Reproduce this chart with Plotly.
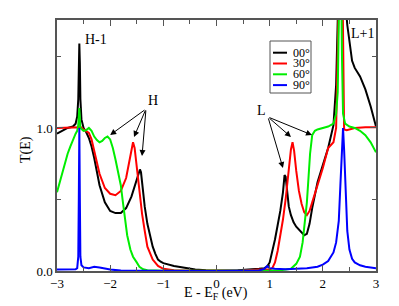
import plotly.graph_objects as go

# ---------------- data ----------------
x_00 = [-3.0, -2.9, -2.8, -2.7, -2.65, -2.62, -2.6, -2.59, -2.58, -2.57, -2.56, -2.54, -2.5, -2.45,
        -2.4, -2.35, -2.3, -2.2, -2.1, -2.0, -1.9, -1.8, -1.7, -1.6, -1.55, -1.5, -1.46, -1.44,
        -1.42, -1.4, -1.35, -1.3, -1.25, -1.2, -1.15, -1.1, -1.05, -1.0, -0.8, -0.6, -0.4, -0.2,
        0.0, 0.2, 0.4, 0.6, 0.8, 0.9, 0.95, 1.0, 1.05, 1.1, 1.15, 1.2, 1.25, 1.28, 1.3, 1.33,
        1.36, 1.4, 1.45, 1.5, 1.55, 1.6, 1.65, 1.7, 1.75, 1.8, 1.9, 2.0, 2.1, 2.2, 2.25, 2.28,
        2.31, 2.34, 2.37, 2.4, 2.43, 2.46, 2.5, 2.55, 2.6, 2.7, 2.8, 2.9, 3.0]
y_00 = [0.96, 0.98, 1.0, 1.01, 1.03, 1.08, 1.2, 1.4, 1.59, 1.45, 1.2, 1.06, 1.0, 0.97,
        0.93, 0.87, 0.79, 0.6, 0.48, 0.42, 0.405, 0.405, 0.44, 0.52, 0.58, 0.65, 0.70, 0.71,
        0.69, 0.62, 0.45, 0.33, 0.24, 0.17, 0.12, 0.08, 0.065, 0.055, 0.035, 0.02, 0.01, 0.005,
        0.003, 0.003, 0.005, 0.008, 0.015, 0.02, 0.03, 0.06, 0.13, 0.22, 0.32, 0.42, 0.55, 0.67, 0.66, 0.55,
        0.45, 0.39, 0.34, 0.31, 0.29, 0.27, 0.25, 0.26, 0.33, 0.44, 0.62, 0.74, 0.86, 1.02, 1.3, 1.75,
        2.3, 2.5, 2.3, 2.0, 1.85, 1.72, 1.6, 1.47, 1.42, 1.36, 1.27, 1.15, 1.01]

x_30 = [-3.0, -2.8, -2.7, -2.6, -2.55, -2.5, -2.45, -2.4, -2.35, -2.3, -2.2, -2.1, -2.0, -1.9,
        -1.8, -1.7, -1.65, -1.6, -1.57, -1.54, -1.5, -1.45, -1.4, -1.35, -1.3, -1.2, -1.1, -1.0,
        -0.8, -0.5, 0.0, 0.5, 0.8, 0.9, 1.0, 1.05, 1.1, 1.15, 1.2, 1.25, 1.3, 1.35, 1.4, 1.43,
        1.46, 1.5, 1.55, 1.6, 1.65, 1.7, 1.75, 1.8, 1.9, 2.0, 2.1, 2.2, 2.25, 2.28, 2.3, 2.34,
        2.37, 2.385, 2.4, 2.45, 2.5, 2.6, 2.8, 3.0]
y_30 = [1.0, 1.0, 1.0, 1.0, 1.005, 0.99, 0.98, 0.965, 0.92, 0.84, 0.68, 0.58, 0.54, 0.53,
        0.56, 0.65, 0.74, 0.85, 0.9, 0.86, 0.72, 0.55, 0.4, 0.28, 0.17, 0.08, 0.035, 0.015,
        0.005, 0.002, 0.001, 0.003, 0.01, 0.012, 0.01, 0.02, 0.06, 0.14, 0.24, 0.36, 0.5, 0.67, 0.85, 0.9,
        0.84, 0.7, 0.56, 0.47, 0.41, 0.39, 0.42, 0.48, 0.6, 0.72, 0.86, 0.9, 1.0, 1.6, 2.2, 2.6,
        2.0, 1.2, 0.99, 0.985, 0.99, 1.0, 1.005, 1.005]

x_60 = [-3.0, -2.95, -2.9, -2.85, -2.8, -2.75, -2.7, -2.65, -2.62, -2.6, -2.59, -2.58, -2.57,
        -2.56, -2.5, -2.45, -2.4, -2.35, -2.3, -2.25, -2.2, -2.15, -2.1, -2.05, -2.0, -1.95,
        -1.9, -1.85, -1.8, -1.76, -1.72, -1.68, -1.62, -1.57, -1.5, -1.45, -1.38, -1.3, -1.0,
        0.0, 1.0, 1.2, 1.3, 1.4, 1.5, 1.57, 1.62, 1.66, 1.7, 1.73, 1.76, 1.8, 1.85, 1.9, 2.0,
        2.1, 2.2, 2.25, 2.28, 2.3, 2.33, 2.36, 2.38, 2.42, 2.5, 2.6, 2.7, 2.8, 2.9, 3.0]
y_60 = [0.55, 0.62, 0.7, 0.77, 0.82, 0.87, 0.92, 0.96, 0.98, 1.02, 1.08, 1.14, 1.07,
        1.0, 0.98, 0.985, 1.0, 0.98, 0.94, 0.915, 0.9, 0.91, 0.93, 0.94, 0.92, 0.86,
        0.78, 0.69, 0.6, 0.48, 0.36, 0.25, 0.15, 0.1, 0.06, 0.03, 0.012, 0.005, 0.001,
        0.0, 0.001, 0.005, 0.01, 0.015, 0.05, 0.1, 0.2, 0.33, 0.48, 0.65, 0.82, 0.95, 0.98, 0.99, 1.0,
        1.01, 1.03, 1.1, 1.25, 1.6, 2.5, 1.5, 1.1, 1.03, 1.01, 1.0, 0.98, 0.95, 0.9, 0.83]

x_90 = [-3.0, -2.8, -2.65, -2.62, -2.6, -2.59, -2.58, -2.57, -2.56, -2.54, -2.5, -2.4, -2.3,
        -2.2, -2.0, -1.8, -1.5, 0.0, 0.8, 0.9, 0.95, 1.0, 1.1, 1.3, 1.5, 1.7, 1.9, 2.0, 2.1,
        2.2, 2.25, 2.3, 2.33, 2.36, 2.38, 2.4, 2.43, 2.46, 2.5, 2.55, 2.6, 2.7, 2.8, 3.0]
y_90 = [0.01, 0.01, 0.012, 0.02, 0.1, 0.5, 1.0, 0.5, 0.1, 0.04, 0.025, 0.02, 0.03,
        0.025, 0.01, 0.003, 0.001, 0.0, 0.003, 0.015, 0.035, 0.02, 0.015, 0.012, 0.015, 0.02, 0.03, 0.045, 0.07,
        0.13, 0.2, 0.35, 0.6, 0.9, 1.0, 0.85, 0.5, 0.28, 0.15, 0.085, 0.06, 0.04, 0.03, 0.02]

series_names = ["00°", "30°", "60°", "90°"]
series_colors = ["#000000", "#ff0000", "#00ee00", "#0000ff"]
series_x = [x_00, x_30, x_60, x_90]
series_y = [y_00, y_30, y_60, y_90]

x_ticks = [-3, -2, -1, 0, 1, 2, 3]
y_ticks = [0.0, 1.0]
y_tick_labels = ["0.0", "1.0"]

# ---------------- figure ----------------
FONT = "Liberation Serif"
fig = go.Figure()
for xs, ys, nm, col in zip(series_x, series_y, series_names, series_colors):
    fig.add_trace(go.Scatter(x=xs, y=ys, mode="lines", name=nm,
                             line=dict(color=col, width=2), showlegend=False))

axis_common = dict(showline=True, linecolor="#555555", linewidth=1.5, mirror="ticks",
                   ticks="inside", ticklen=6, tickcolor="#555555", tickwidth=1,
                   showgrid=False, zeroline=False, automargin=False,
                   tickfont=dict(family=FONT, size=13, color="#000"))

fig.update_xaxes(range=[-3, 3], tickvals=x_ticks, **axis_common,
                 minor=dict(ticks="inside", dtick=0.5, ticklen=4, tickcolor="#555555"))
fig.update_yaxes(range=[0, 1.755], tickvals=y_ticks, ticktext=y_tick_labels, **axis_common,
                 minor=dict(ticks="inside", dtick=0.5, ticklen=4, tickcolor="#555555"))

L, R, T, B = 57, 376, 20, 271
def px(v):
    return (v - L) / (R - L)
def py(v):
    return (B - v) / (B - T)

ann = []
# axis titles
ann.append(dict(x=px(216), y=py(293), xref="paper", yref="paper", text="E - E<sub>F</sub> (eV)",
                showarrow=False, xanchor="center", yanchor="middle",
                font=dict(family=FONT, size=14, color="#000")))
ann.append(dict(x=px(26), y=py(150), xref="paper", yref="paper", text="T(E)", textangle=-90,
                showarrow=False, xanchor="center", yanchor="middle",
                font=dict(family=FONT, size=14, color="#000")))

def txt(x, y, s):
    ann.append(dict(x=x, y=y, xref="x", yref="y", text=s, showarrow=False,
                    font=dict(family=FONT, size=14, color="#000")))

txt(-2.26, 1.62, "H-1")
txt(-1.20, 1.195, "H")
txt(0.84, 1.125, "L")
txt(2.75, 1.66, "L+1")

def arrow(x0, y0, x1, y1):
    ann.append(dict(x=x1, y=y1, ax=x0, ay=y0, xref="x", yref="y", axref="x", ayref="y",
                    text="", showarrow=True, arrowhead=2, arrowsize=1.2, arrowwidth=1,
                    arrowcolor="#000"))

for hx, hy in [(-2.0, 0.951), (-1.552, 0.937), (-1.401, 0.804)]:
    arrow(-1.326, 1.133, hx, hy)
for hx, hy in [(1.796, 0.951), (1.401, 0.937), (1.25, 0.72)]:
    arrow(0.968, 1.077, hx, hy)

# manual legend
shapes = [dict(type="rect", xref="paper", yref="paper", x0=px(270), x1=px(311),
               y0=py(93), y1=py(41), line=dict(color="#555555", width=1), fillcolor="white")]
for i, (nm, col) in enumerate(zip(series_names, series_colors)):
    yy = 52.7 + 10.8 * i
    shapes.append(dict(type="line", xref="paper", yref="paper", x0=px(273), x1=px(287),
                       y0=py(yy), y1=py(yy), line=dict(color=col, width=2)))
    ann.append(dict(x=px(292), y=py(yy), xref="paper", yref="paper", text=nm, showarrow=False,
                    xanchor="left", yanchor="middle", borderpad=0,
                    font=dict(family=FONT, size=12, color="#000")))

fig.update_layout(width=399, height=306, margin=dict(l=L, r=399 - R, t=T, b=306 - B),
                  paper_bgcolor="white", plot_bgcolor="white",
                  annotations=ann, shapes=shapes, showlegend=False)

fig.write_html("out.html", config={"displayModeBar": False},
               post_script="document.body.style.margin='0';")
